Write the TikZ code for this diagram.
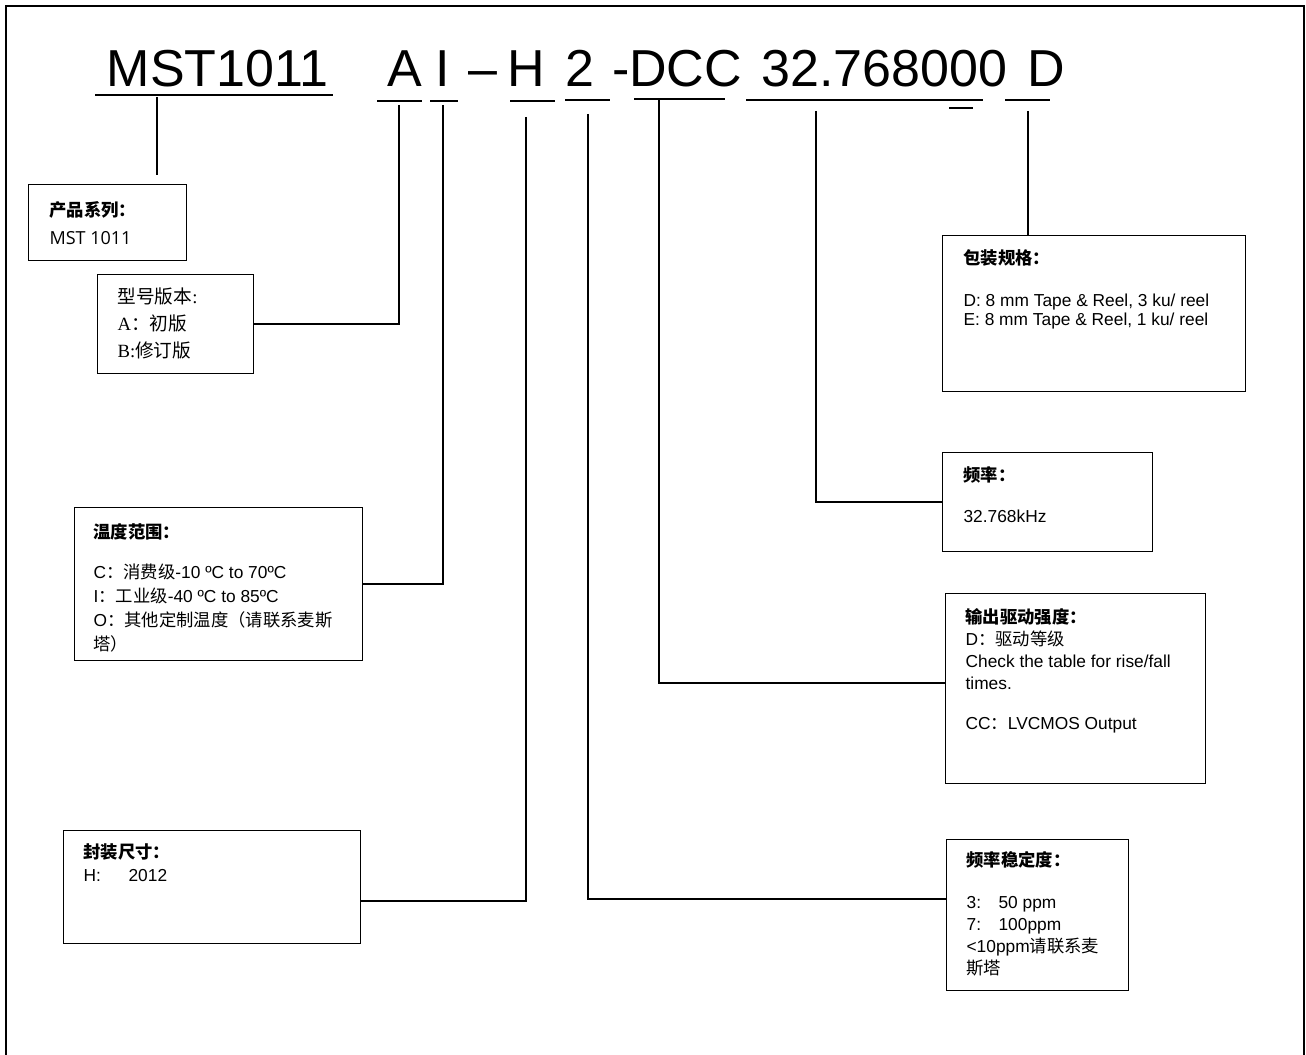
\documentclass[tikz,border=0pt]{standalone}
\usepackage{fontspec}
\setmainfont{Liberation Sans}
\newfontfamily\cjkfont{Noto Sans CJK SC}
\newfontfamily\uifont{Open Sans}
\newfontfamily\songfont{Liberation Serif}
\usetikzlibrary{calc}
\newcommand{\zh}[1]{{\cjkfont #1}}
\newdimen\pxu \pxu=0.75pt
% width, height, left pad, first baseline, body (all in px)
\newcommand{\specbox}[5]{\parbox[t][#2\pxu][t]{#1\pxu}{\raggedright\leftskip=#3\pxu\relax\rule{0pt}{#4\pxu}#5}}

\begin{document}
\begin{tikzpicture}[x=0.75pt, y=-0.75pt,
    code/.style={font=\fontsize{39}{47}\selectfont, anchor=base, inner sep=0pt},
    spec/.style={draw, line width=0.9pt, inner sep=0pt, anchor=north west,
                 font=\fontsize{13}{15}\selectfont},
    uline/.style={line width=1.5pt},
    link/.style={line width=1.1pt}]
\useasboundingbox (0,0) rectangle (1306,1055);
\draw[line width=1.6pt] (6,1060) -- (6,6) -- (1304,6) -- (1304,1060);

% PART NUMBER
\node[code] (cSer)  at (217.5,87) {MST1011};
\node[code] (cVer)  at (405,87)   {A};
\node[code] (cTmp)  at (443,87)   {I};
\node[code] (cDash) at (483,87)   {–};
\node[code] (cPkg)  at (526,87)   {H};
\node[code] (cStb)  at (580,87)   {2};
\node[code] (cDrv)  at (677,87)   {-DCC};
\node[code] (cFrq)  at (884.5,87) {32.768000};
\node[code] (cReel) at (1046,87)  {D};

% underlines
\foreach \a/\b/\y in {95/333/95, 377/422/101, 430/458/101, 510/555/101,
                      565/610/100, 634/725/99, 746/983/100, 949/973/108,
                      1005/1050/100}
   \draw[uline] (\a,\y) -- (\b,\y);

% LEFT BOXES
\node[spec, font=\fontsize{13}{21}\selectfont] (bSer) at (28,184)
   {\specbox{158}{76}{21}{32}{\textbf{\zh{产品系列：}}\\ {\uifont\fontsize{13.5}{21}\selectfont MST 1011}}};
\node[spec, font=\fontsize{14}{20.25}\selectfont\songfont] (bVer) at (97,274)
   {\specbox{156}{99}{20}{29}{\zh{型号版本}:\\ A\zh{：初版}\\ B:\zh{修订版}}};
\node[spec, font=\fontsize{13}{18}\selectfont] (bTmp) at (74,507)
   {\specbox{288}{153}{19}{31}{\textbf{\zh{温度范围：}}\\[16\pxu]
    C\zh{：消费级}-10 ºC to 70ºC\\
    I\zh{：工业级}-40 ºC to 85ºC\\
    O\zh{：其他定制温度（请联系麦斯}\\
    \zh{塔）}}};
\node[spec, font=\fontsize{13}{17.25}\selectfont] (bPkg) at (63,830)
   {\specbox{297}{113}{20}{28}{\textbf{\zh{封装尺寸：}}\\
    \makebox[33.75pt][l]{H:}2012}};

% RIGHT BOXES
\node[spec, font=\fontsize{13}{14.25}\selectfont] (bReel) at (942,235)
   {\specbox{303}{156}{21}{29}{\textbf{\zh{包装规格：}}\\[23\pxu]
    D: 8 mm Tape \& Reel, 3 ku/ reel\\
    E: 8 mm Tape \& Reel, 1 ku/ reel}};
\node[spec, font=\fontsize{13}{15}\selectfont] (bFrq) at (942,452)
   {\specbox{210}{99}{21}{29}{\textbf{\zh{频率：}}\\[21\pxu] 32.768kHz}};
\node[spec, font=\fontsize{13}{16.5}\selectfont] (bDrv) at (945,593)
   {\specbox{260}{190}{20}{30}{\textbf{\zh{输出驱动强度：}}\\
    D\zh{：驱动等级}\\
    Check the table for rise/fall\\
    times.\\[18\pxu]
    CC\zh{：}LVCMOS Output}};
\node[spec, font=\fontsize{13}{16.5}\selectfont] (bStb) at (946,839)
   {\specbox{182}{151}{20}{27}{\textbf{\zh{频率稳定度：}}\\[20\pxu]
    \makebox[24pt][l]{3:}50 ppm\\
    \makebox[24pt][l]{7:}100ppm\\
    <10ppm\zh{请联系麦}\\
    \zh{斯塔}}};

% CONNECTORS
\coordinate (uSer)  at (157,97);
\coordinate (uVer)  at (399,105);
\coordinate (uTmp)  at (443,105);
\coordinate (uPkg)  at (526,117);
\coordinate (uStb)  at (588,114);
\coordinate (uDrv)  at (659,100);
\coordinate (uFrq)  at (816,111);
\coordinate (uReel) at (1028,111);
\draw[link] (uSer) -- (uSer |- 0,175);
\draw[link] (uVer) |- (bVer.east);
\draw[link] (uTmp) |- (bTmp.east);
\draw[link] (uPkg) |- (bPkg.east |- 0,901);
\draw[link] (uStb) |- (bStb.west |- 0,899);
\draw[link] (uDrv) |- (bDrv.west |- 0,683);
\draw[link] (uFrq) |- (bFrq.west);
\draw[link] (uReel) -- (uReel |- bReel.north);

\end{tikzpicture}
\end{document}
